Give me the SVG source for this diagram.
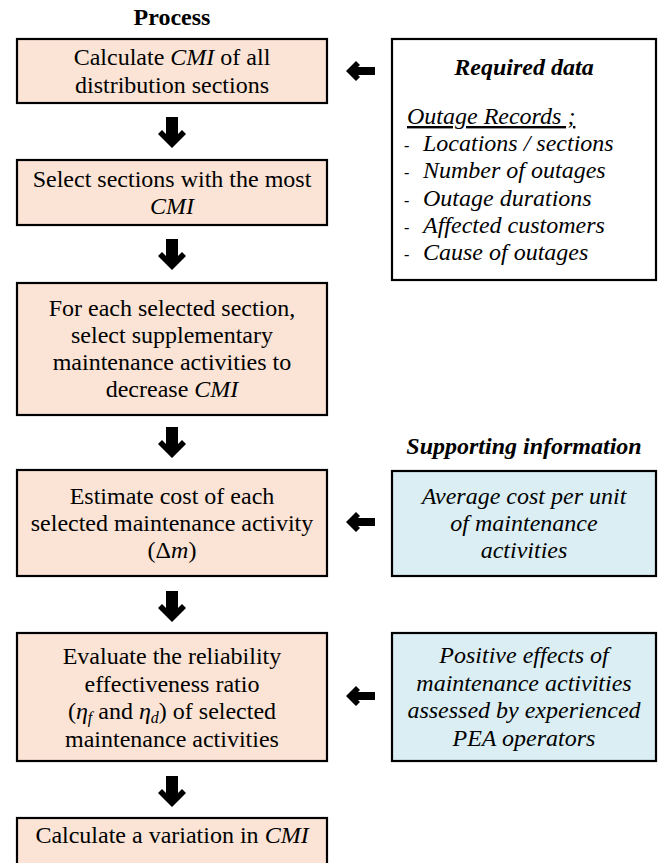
<svg xmlns="http://www.w3.org/2000/svg" width="668" height="863" viewBox="0 0 668 863">
  <style>
    text { font-family: "Liberation Serif", "Times New Roman", serif; font-size: 24px; fill: #000; }
    .c { text-anchor: middle; }
    .i { font-style: italic; }
    .b { font-weight: bold; }
    .proc { fill: #FBE4D5; stroke: #000; stroke-width: 2.2; }
    .info { fill: #DAEEF3; stroke: #000; stroke-width: 2.2; }
    .data { fill: #FFFFFF; stroke: #000; stroke-width: 2.2; }
    .arrow { fill: #000; }
  </style>
  <defs>
    <!-- heavy down arrow, origin at top centre of the shaft -->
    <polygon id="down" points="-6,0 6,0 6,17 10,13 14,17 0,31 -14,17 -10,13 -6,17"/>
    <!-- heavy left arrow, origin at the tip -->
    <polygon id="left" points="0,0 10,-10 14,-6 12,-4 29,-4 29,4 12,4 14,6 10,10"/>
  </defs>

  <text class="c b" x="172" y="25">Process</text>

  <g id="calc-cmi">
    <rect class="proc" x="17" y="39" width="310" height="64"/>
    <text class="c" x="172" y="65">Calculate <tspan class="i">CMI</tspan> of all</text>
    <text class="c" x="172" y="93">distribution sections</text>
  </g>

  <g id="select-sections">
    <rect class="proc" x="17" y="160" width="310" height="65"/>
    <text class="c" x="172" y="187">Select sections with the most</text>
    <text class="c i" x="172" y="214">CMI</text>
  </g>

  <g id="select-activities">
    <rect class="proc" x="17" y="283" width="310" height="132"/>
    <text class="c" x="172" y="316">For each selected section,</text>
    <text class="c" x="172" y="343">select supplementary</text>
    <text class="c" x="172" y="370">maintenance activities to</text>
    <text class="c" x="172" y="397">decrease <tspan class="i">CMI</tspan></text>
  </g>

  <g id="estimate-cost">
    <rect class="proc" x="17" y="470" width="310" height="106"/>
    <text class="c" x="172" y="504">Estimate cost of each</text>
    <text class="c" x="172" y="531">selected maintenance activity</text>
    <text class="c" x="172" y="558">(Δ<tspan class="i">m</tspan>)</text>
  </g>

  <g id="evaluate-ratio">
    <rect class="proc" x="17" y="633" width="310" height="128"/>
    <text class="c" x="172" y="664">Evaluate the reliability</text>
    <text class="c" x="172" y="692">effectiveness ratio</text>
    <text class="c" x="172" y="719">(<tspan class="i">η</tspan><tspan class="i" font-size="16" dy="4">f</tspan><tspan dy="-4"> and </tspan><tspan class="i">η</tspan><tspan class="i" font-size="16" dy="4">d</tspan><tspan dy="-4">) of selected</tspan></text>
    <text class="c" x="172" y="747">maintenance activities</text>
  </g>

  <g id="calc-variation">
    <rect class="proc" x="17" y="818" width="310" height="70"/>
    <text class="c" x="172" y="843">Calculate a variation in <tspan class="i">CMI</tspan></text>
  </g>

  <g id="required-data">
    <rect class="data" x="392" y="39" width="264" height="241"/>
    <text class="c b i" x="524" y="75">Required data</text>
    <text class="i" x="407" y="124" text-decoration="underline">Outage Records ;</text>
    <text x="404" y="151"><tspan font-size="16">-</tspan></text>
    <text class="i" x="423" y="151">Locations / sections</text>
    <text x="404" y="178"><tspan font-size="16">-</tspan></text>
    <text class="i" x="423" y="178">Number of outages</text>
    <text x="404" y="206"><tspan font-size="16">-</tspan></text>
    <text class="i" x="423" y="206">Outage durations</text>
    <text x="404" y="233"><tspan font-size="16">-</tspan></text>
    <text class="i" x="423" y="233">Affected customers</text>
    <text x="404" y="260"><tspan font-size="16">-</tspan></text>
    <text class="i" x="423" y="260">Cause of outages</text>
  </g>

  <text class="c b i" x="524" y="454">Supporting information</text>

  <g id="average-cost">
    <rect class="info" x="392" y="471" width="264" height="105"/>
    <text class="c i" x="524" y="504">Average cost per unit</text>
    <text class="c i" x="524" y="531">of maintenance</text>
    <text class="c i" x="524" y="558">activities</text>
  </g>

  <g id="positive-effects">
    <rect class="info" x="392" y="633" width="264" height="128"/>
    <text class="c i" x="524" y="663">Positive effects of</text>
    <text class="c i" x="524" y="691">maintenance activities</text>
    <text class="c i" x="524" y="718">assessed by experienced</text>
    <text class="c i" x="524" y="746">PEA operators</text>
  </g>

  <g id="connectors" class="arrow">
    <use href="#down" x="172" y="117"/>
    <use href="#down" x="172" y="239"/>
    <use href="#down" x="172" y="427"/>
    <use href="#down" x="172" y="591"/>
    <use href="#down" x="172" y="776"/>
    <use href="#left" x="346" y="71"/>
    <use href="#left" x="346" y="522"/>
    <use href="#left" x="346" y="696"/>
  </g>
</svg>
